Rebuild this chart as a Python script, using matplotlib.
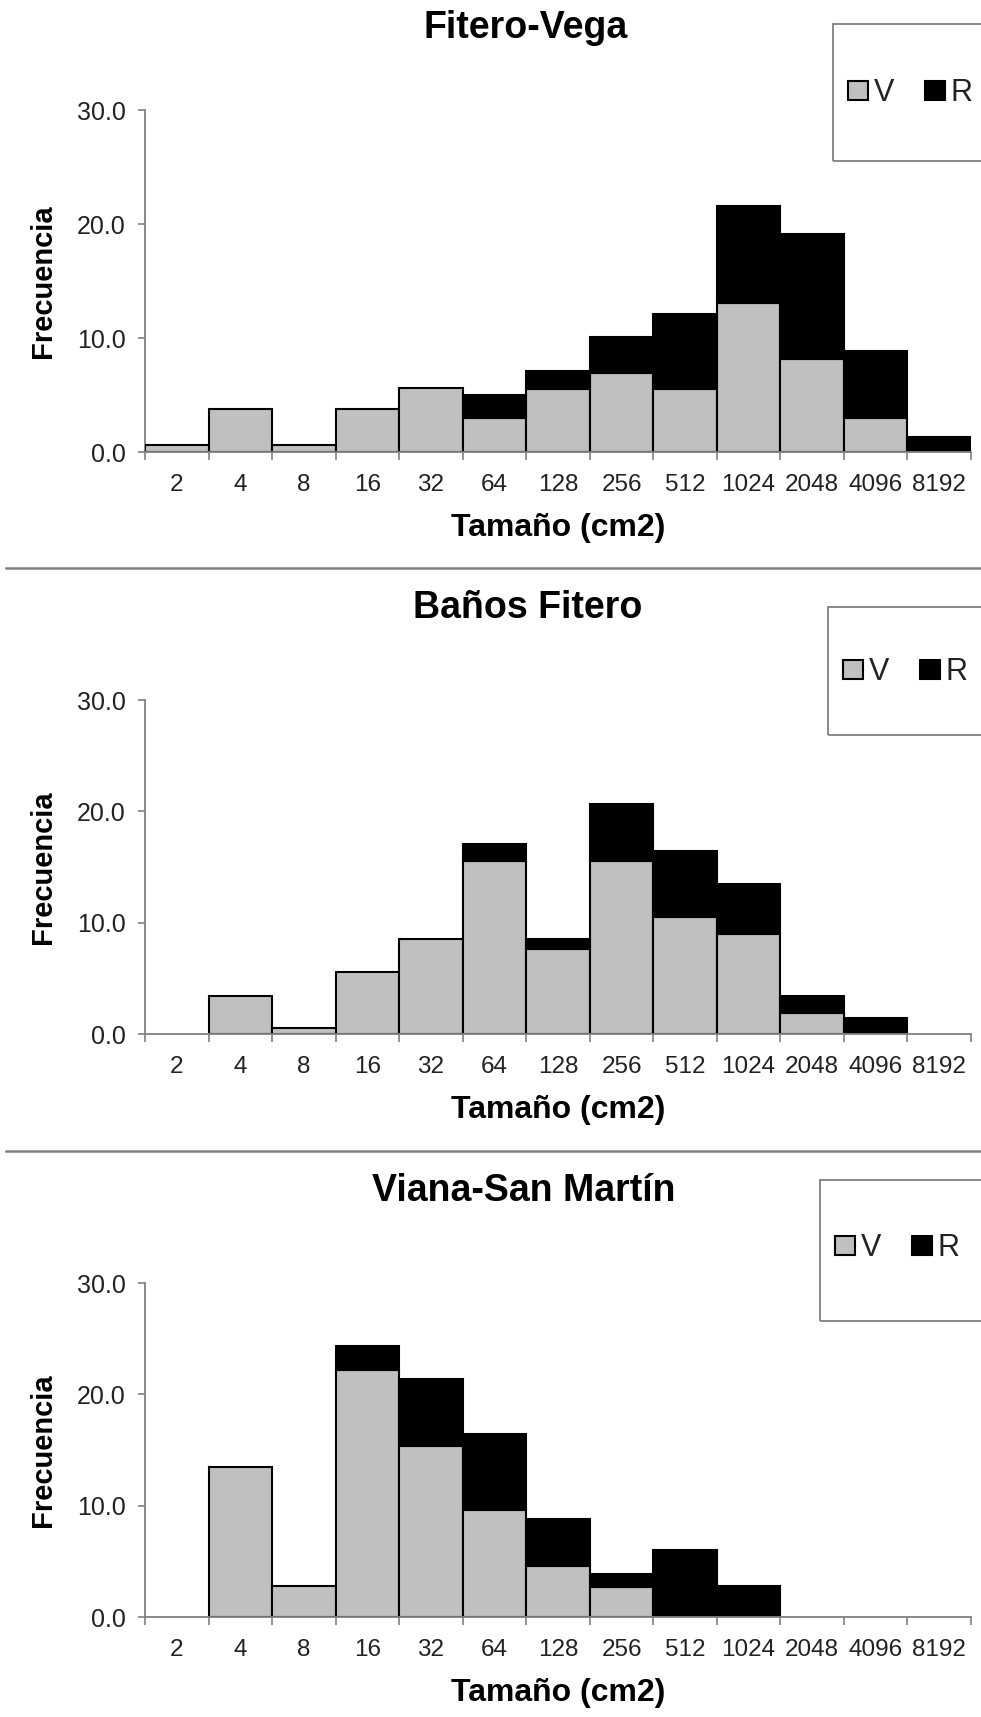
import matplotlib
matplotlib.use("Agg")
import matplotlib.pyplot as plt
from matplotlib.patches import Rectangle, Patch
from matplotlib.lines import Line2D
import numpy as np

plt.rcParams['font.family'] = ['Liberation Sans', 'DejaVu Sans']

categories = ['2', '4', '8', '16', '32', '64', '128', '256', '512', '1024', '2048', '4096', '8192']

titles = ['Fitero-Vega', 'Baños Fitero', 'Viana-San Martín']

fitero_vega_V = [0.6, 3.8, 0.6, 3.8, 5.6, 3.0, 5.5, 6.9, 5.5, 13.1, 8.2, 3.0, 0.0]
fitero_vega_R = [0.0, 0.0, 0.0, 0.0, 0.0, 2.0, 1.6, 3.2, 6.6, 8.5, 10.9, 5.9, 1.3]

banos_fitero_V = [0.0, 3.4, 0.5, 5.6, 8.5, 15.5, 7.6, 15.5, 10.5, 9.0, 1.9, 0.0, 0.0]
banos_fitero_R = [0.0, 0.0, 0.0, 0.0, 0.0, 1.6, 0.9, 5.2, 5.9, 4.5, 1.5, 1.4, 0.0]

viana_V = [0.0, 13.5, 2.8, 22.2, 15.4, 9.6, 4.6, 2.7, 0.0, 0.0, 0.0, 0.0, 0.0]
viana_R = [0.0, 0.0, 0.0, 2.1, 6.0, 6.8, 4.2, 1.2, 6.0, 2.8, 0.0, 0.0, 0.0]

series_V = [fitero_vega_V, banos_fitero_V, viana_V]
series_R = [fitero_vega_R, banos_fitero_R, viana_R]
series_names = ['V', 'R']

yticks = [0, 10, 20, 30]
ytick_labels = ['0.0', '10.0', '20.0', '30.0']

W, H = 981, 1717
fig = plt.figure(figsize=(W / 100, H / 100), dpi=100)

# layout in pixels (top-down)
ax_left, ax_right = 145, 971
zero_y = [452, 1034, 1617]
top_y = [110, 700, 1283]
title_y = [28, 608, 1191]
title_x = [526, 528, 524]
legend_box = [(833, 24, 161), (828, 607, 735), (820, 1180, 1321)]
legend_y = [93, 672, 1248]
sep_y = [568, 1151]

GRAY = '#c0c0c0'
AXC = '#808080'
TXT = '#222222'

def fx(x):
    return x / W

def fy(y):
    return 1 - y / H

for p in range(3):
    ax = fig.add_axes([fx(ax_left), fy(zero_y[p]), fx(ax_right - ax_left),
                       (zero_y[p] - top_y[p]) / H])
    x = np.arange(len(categories))
    v = np.array(series_V[p])
    r = np.array(series_R[p])
    ec_v = ['black' if val > 0 else 'none' for val in v]
    ec_r = ['black' if val > 0 else 'none' for val in r]
    ax.bar(x, v, width=1.0, align='edge', color=GRAY, edgecolor=ec_v,
           linewidth=1.5, zorder=3)
    ax.bar(x, r, width=1.0, align='edge', bottom=v, color='black',
           edgecolor=ec_r, linewidth=1.5, zorder=3)
    ax.set_xlim(0, len(categories))
    ax.set_ylim(0, 30)
    for s in ['top', 'right']:
        ax.spines[s].set_visible(False)
    for s in ['left', 'bottom']:
        ax.spines[s].set_color(AXC)
        ax.spines[s].set_linewidth(1.3)
    ax.spines['bottom'].set_zorder(4)
    ax.set_yticks(yticks)
    ax.set_yticklabels(ytick_labels)
    ax.tick_params(axis='y', direction='out', length=5, width=1.2, color=AXC,
                   pad=9, labelsize=18, labelcolor=TXT)
    ax.set_xticks(np.arange(len(categories) + 1))
    ax.set_xticklabels([])
    ax.set_xticks(x + 0.5, minor=True)
    ax.set_xticklabels(categories, minor=True)
    ax.tick_params(axis='x', which='major', direction='out', length=6, width=1.2,
                   color=AXC)
    ax.tick_params(axis='x', which='minor', length=0, pad=16, labelsize=17.5,
                   labelcolor=TXT)
    ax.patch.set_alpha(0)

    ax.set_xlabel('Tamaño (cm2)', fontsize=23, fontweight='bold', labelpad=12)
    fig.text(fx(43), fy((zero_y[p] + top_y[p]) / 2), 'Frecuencia', rotation=90,
             ha='center', va='center', fontsize=21, fontweight='bold')
    fig.text(fx(title_x[p]), fy(title_y[p]), titles[p], ha='center', va='center',
             fontsize=27, fontweight='bold')

    # legend frame
    bx, by0, by1 = legend_box[p]
    fig.patches.append(Rectangle((fx(bx), fy(by1)), fx(W + 20 - bx), (by1 - by0) / H,
                                 transform=fig.transFigure, fill=False,
                                 edgecolor=AXC, linewidth=1.3))
    handles = [Patch(facecolor=GRAY, edgecolor='black', linewidth=1.5),
               Patch(facecolor='black', edgecolor='black', linewidth=1.5)]
    leg = fig.legend(handles=handles, labels=series_names, loc='center left',
                     bbox_to_anchor=(fx(bx + 15), fy(legend_y[p])), ncol=2,
                     frameon=False, fontsize=22, handlelength=0.65,
                     handleheight=0.6, handletextpad=0.2, columnspacing=1.0,
                     borderaxespad=0, borderpad=0)
    for t in leg.get_texts():
        t.set_color(TXT)

for y in sep_y:
    fig.add_artist(Line2D([fx(6), 1.0], [fy(y), fy(y)], transform=fig.transFigure,
                          color=AXC, linewidth=1.8))

fig.savefig('out.png', dpi=100, facecolor='white')
